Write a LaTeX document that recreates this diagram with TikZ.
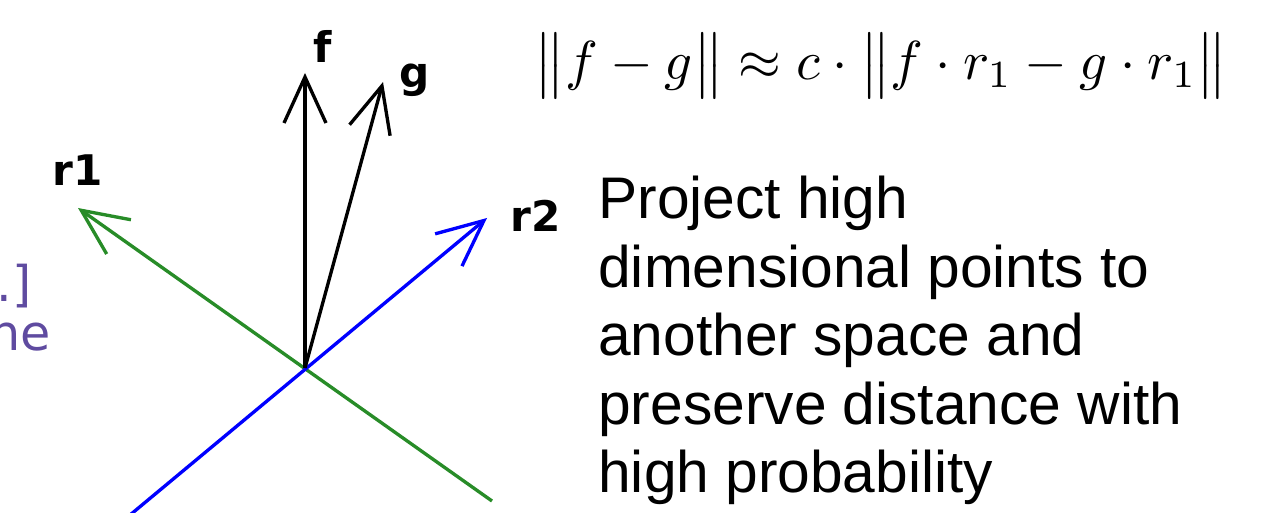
\documentclass[tikz,border=0pt]{standalone}
\usepackage{fontspec}
\usepackage{amsmath}
\usepackage{graphicx}
\usepackage{xcolor}
\usepackage{tikz}
\usetikzlibrary{arrows.meta}
\setmainfont{Liberation Sans}
\newfontfamily\dejavu{DejaVu Sans}
\definecolor{rgreen}{RGB}{40,140,40}
\definecolor{rblue}{RGB}{0,0,255}
\definecolor{slidepurple}{RGB}{95,75,160}
\tikzset{
  vec/.style={line width=1.9pt, -{Straight Barb[length=0.92cm, width=0.84cm, line width=1.9pt]}},
  veclabel/.style={font=\dejavu\bfseries\fontsize{24}{28}\selectfont, inner sep=0pt},
  cutoff/.style={font=\dejavu\fontsize{28}{32}\selectfont, text=slidepurple, inner sep=0pt, anchor=base east}
}

\begin{document}
\begin{tikzpicture}[x=0.02cm, y=-0.02cm]
\useasboundingbox (0,0) rectangle (1264,513);

% ---- text cut off at the left edge ----
\node[cutoff] (dots) at (32,301) {.]};
\node[cutoff] (line) at (51,350) {ne};

% ---- the two random directions and the two points ----
\coordinate (O) at (305,368);
\coordinate (r1tip) at (78,208);
\coordinate (r1end) at (492,501);
\coordinate (r2tip) at (487,218);
\coordinate (r2end) at (130,515);
\coordinate (ftip) at (305,73);
\coordinate (gtip) at (383,82);
\draw[vec, rgreen] (r1end) -- (r1tip);
\draw[vec, rblue] (r2end) -- (r2tip);
\draw[vec, black] (O) -- (ftip);
\draw[vec, black] (O) -- (gtip);
\node[veclabel] (r1) at (78,170) {r1};
\node[veclabel] (r2) at (536,216) {r2};
\node[veclabel] (f) at (323,46) {f};
\node[veclabel] (g) at (415,80) {g};

% ---- distance formula ----
\node[inner sep=0pt] (formula) at (881,66)
  {\resizebox{13.86cm}{!}{$\big\|f-g\big\|\approx c\cdot\big\|f\cdot r_1-g\cdot r_1\big\|$}};

% ---- explanation ----
\node[anchor=north west, inner sep=0pt, align=left,
      font=\fontsize{33.4}{39}\selectfont] (text) at (598,176)
  {Project high\\dimensional points to\\another space and\\preserve distance with\\high probability};

\end{tikzpicture}
\end{document}
